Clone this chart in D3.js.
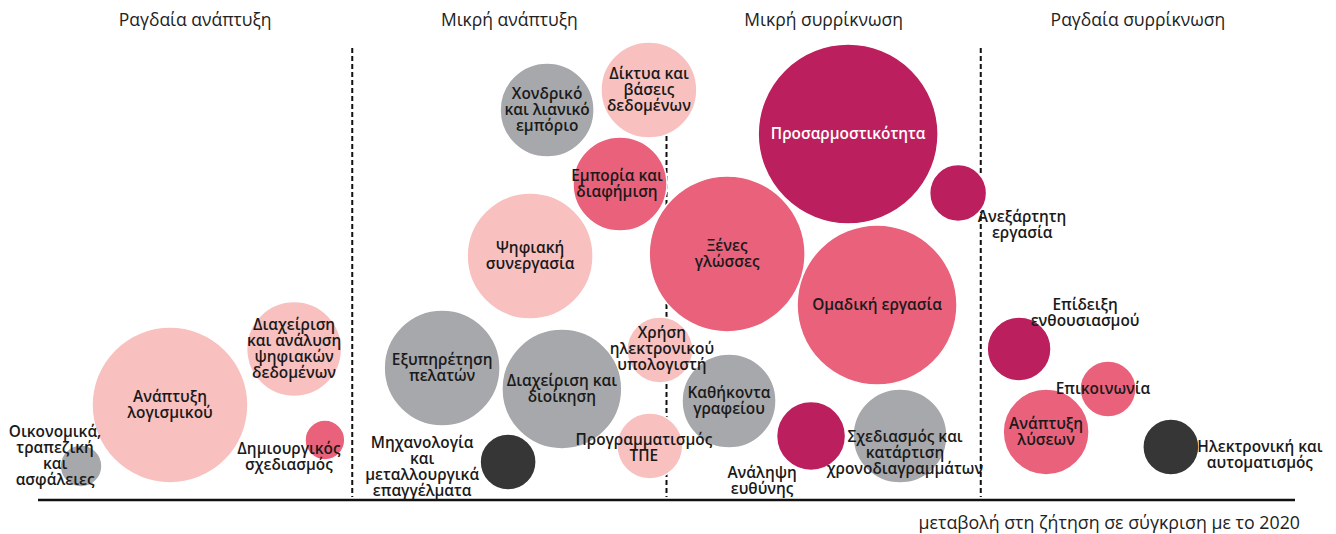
<!DOCTYPE html>
<html>
<head>
<meta charset="utf-8">
<script src="https://cdn.jsdelivr.net/npm/d3@7"></script>
<style>
  body { margin: 0; background: #fff; }
  svg text { font-family: "Open Sans", "Noto Sans", sans-serif; }
</style>
</head>
<body>
<div id="chart"></div>
<script>
// zone headers (x axis: 0..4, one unit per zone)
var zones = ["Ραγδαία ανάπτυξη", "Μικρή ανάπτυξη", "Μικρή συρρίκνωση", "Ραγδαία συρρίκνωση"];

var skills = [
  "Οικονομικά,\nτραπεζική\nκαι\nασφάλειες",
  "Ανάπτυξη\nλογισμικού",
  "Διαχείριση\nκαι ανάλυση\nψηφιακών\nδεδομένων",
  "Δημιουργικός\nσχεδιασμός",
  "Εξυπηρέτηση\nπελατών",
  "Διαχείριση και\nδιοίκηση",
  "Μηχανολογία\nκαι\nμεταλλουργικά\nεπαγγέλματα",
  "Χρήση\nηλεκτρονικού\nυπολογιστή",
  "Προγραμματισμός\nΤΠΕ",
  "Καθήκοντα\nγραφείου",
  "Ανάληψη\nευθύνης",
  "Σχεδιασμός και\nκατάρτιση\nχρονοδιαγραμμάτων",
  "Επίδειξη\nενθουσιασμού",
  "Επικοινωνία",
  "Ανάπτυξη\nλύσεων",
  "Ηλεκτρονική και\nαυτοματισμός",
  "Χονδρικό\nκαι λιανικό\nεμπόριο",
  "Δίκτυα και\nβάσεις\nδεδομένων",
  "Εμπορία και\nδιαφήμιση",
  "Ψηφιακή\nσυνεργασία",
  "Ξένες\nγλώσσες",
  "Προσαρμοστικότητα",
  "Ανεξάρτητη\nεργασία",
  "Ομαδική εργασία"
];

// change in demand vs 2020 (position along zones)
var change = [0.137, 0.42, 0.815, 0.913, 1.286, 1.667, 1.496, 1.979, 1.947, 2.199, 2.46, 2.743,
              3.122, 3.405, 3.208, 3.605, 1.62, 1.944, 1.852, 1.566, 2.193, 2.578, 2.928, 2.67];

// vertical placement value
var level = [34, 95, 151, 60, 132, 111, 38, 150, 54, 99, 64, 64,
             151, 111, 68, 53, 390, 410, 316, 244, 246, 366, 307, 195];

// bubble size
var size = [5.4, 75.1, 27.9, 4.9, 41.5, 44.4, 9.7, 13.4, 13.4, 27.3, 14.7, 27.3,
            12.6, 9.7, 22.8, 9.7, 27.3, 28.4, 27.3, 49, 75.1, 100, 10, 79];

// skill type
var type = ["sector", "digital", "digital", "technical", "sector", "sector", "other", "digital", "digital", "sector", "personal", "sector",
            "personal", "technical", "technical", "other", "sector", "digital", "technical", "digital", "technical", "personal", "personal", "technical"];

var types = ["digital", "sector", "other", "technical", "personal"];
var typeColors = ["#f8c1c0", "#a7a8ab", "#363636", "#e9617a", "#bc1f5d"];

var width = 1336, height = 534;

var svg = d3.select("#chart")
    .append("svg")
    .attr("width", width)
    .attr("height", height);

var x = d3.scaleLinear().domain([0, 4]).range([38, 1295]);
var y = d3.scaleLinear().domain([0, 460]).range([500, 40]);
var r = d3.scaleSqrt().domain([0, 100]).range([0, 90]);
var color = d3.scaleOrdinal().domain(types).range(typeColors);

var data = skills.map(function(s, i) {
  return { name: s, change: change[i], level: level[i], size: size[i], type: type[i] };
});

// label nudges for bubbles whose label sits outside
var labelShift = {
  0: [-26, -10], 3: [-36, 17], 6: [-86, 5], 8: [-6, 2], 10: [-49, 45], 11: [5, 17],
  12: [66, -36], 13: [-5, 0], 15: [89, 8], 18: [-3, 0], 22: [64, 32], 7: [2, -1]
};

// zone headers
svg.selectAll(".zone-title")
    .data(zones)
    .enter()
    .append("text")
    .attr("class", "zone-title")
    .attr("x", function(d, i) { return x(i + 0.5); })
    .attr("y", 26)
    .attr("text-anchor", "middle")
    .attr("font-size", "17.5px")
    .attr("fill", "#222")
    .text(function(d) { return d; });

// dashed zone separators
svg.selectAll(".sep")
    .data([1, 2, 3])
    .enter()
    .append("line")
    .attr("class", "sep")
    .attr("x1", function(d) { return x(d); })
    .attr("x2", function(d) { return x(d); })
    .attr("y1", 48)
    .attr("y2", 497)
    .attr("stroke", "#111")
    .attr("stroke-width", 2)
    .attr("stroke-dasharray", "5,3");

// baseline
svg.append("line")
    .attr("x1", x(0))
    .attr("x2", x(4))
    .attr("y1", y(0))
    .attr("y2", y(0))
    .attr("stroke", "#111")
    .attr("stroke-width", 2.5);

svg.append("text")
    .attr("x", 1300)
    .attr("y", 529)
    .attr("text-anchor", "end")
    .attr("font-size", "17.8px")
    .attr("fill", "#222")
    .text("μεταβολή στη ζήτηση σε σύγκριση με το 2020");

// bubbles
svg.selectAll("circle.bubble")
    .data(data)
    .enter()
    .append("circle")
    .attr("class", "bubble")
    .attr("cx", function(d) { return x(d.change); })
    .attr("cy", function(d) { return y(d.level); })
    .attr("r", function(d) { return r(d.size); })
    .attr("fill", function(d) { return color(d.type); })
    .attr("stroke", "#fff")
    .attr("stroke-width", 1.5);

// labels
var lineH = 16;
var labels = svg.selectAll("text.label")
    .data(data)
    .enter()
    .append("text")
    .attr("class", "label")
    .attr("text-anchor", "middle")
    .attr("font-size", "15.4px")
    .attr("font-weight", 600)
    .attr("fill", function(d, i) { return i === 21 ? "#fff" : "#1a1a1a"; })
    .attr("transform", function(d, i) {
      var s = labelShift[i] || [0, 0];
      return "translate(" + (x(d.change) + s[0]) + "," + (y(d.level) + s[1]) + ")";
    });

labels.each(function(d) {
  var lines = d.name.split("\n");
  var t = d3.select(this);
  lines.forEach(function(l, k) {
    t.append("tspan")
      .attr("x", 0)
      .attr("y", (k - (lines.length - 1) / 2) * lineH + 5)
      .text(l);
  });
});
</script>
</body>
</html>
